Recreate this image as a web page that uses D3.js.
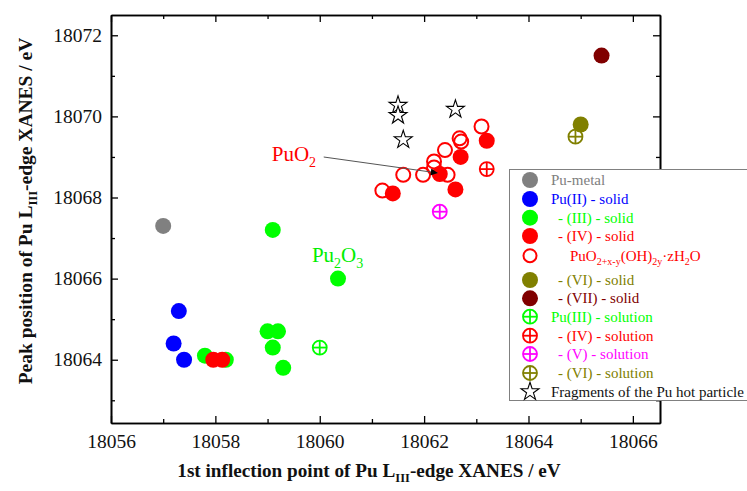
<!DOCTYPE html>
<html><head><meta charset="utf-8">
<script src="https://cdn.jsdelivr.net/npm/d3@7"></script>
<style>
body{margin:0;background:#fff;}
svg{display:block;}
svg text{font-family:"Liberation Serif","Times New Roman",Times,serif !important;}
</style></head>
<body><svg id="c" width="747" height="491"></svg>
<script>
// ---- data ----
const xMajorTicks = [18056, 18058, 18060, 18062, 18064, 18066];
const xMinorTicks = [18057, 18059, 18061, 18063, 18065];
const yMajorTicks = [18064, 18066, 18068, 18070, 18072];
const yMinorTicks = [18063, 18065, 18067, 18069, 18071];

const puMetal = [[18057.0, 18067.3]];
const pu2Solid = [[18057.3, 18065.2], [18057.2, 18064.4], [18057.4, 18064.0]];
const pu3Solid = [[18057.8, 18064.1], [18058.2, 18064.0], [18059.0, 18064.7], [18059.2, 18064.7],
  [18059.1, 18064.3], [18059.3, 18063.8], [18059.1, 18067.2], [18060.35, 18066.0]];
const puO2xHydr = [[18063.1, 18069.75], [18062.68, 18069.46], [18062.71, 18069.38], [18062.4, 18069.17],
  [18062.19, 18068.89], [18062.19, 18068.74], [18061.98, 18068.56], [18061.6, 18068.56],
  [18061.2, 18068.17], [18062.45, 18068.56]];
const pu4Solid = [[18057.96, 18064.0], [18058.13, 18064.0], [18063.2, 18069.4], [18062.7, 18069.0],
  [18062.3, 18068.58], [18062.6, 18068.2], [18061.4, 18068.1]];
const pu6Solid = [[18065.0, 18069.8]];
const pu7Solid = [[18065.4, 18071.5]];
const pu3Sol = [[18060.0, 18064.3]];
const pu4Sol = [[18063.2, 18068.7]];
const pu5Sol = [[18062.3, 18067.65]];
const pu6Sol = [[18064.9, 18069.5]];
const fragments = [[18061.5, 18070.25], [18061.5, 18070.0], [18061.6, 18069.4], [18062.6, 18070.15]];

const puO2Point = [18062.3, 18068.58];
const puO2LabelPos = [18059.08, 18068.9];
const pu2O3LabelPos = [18059.85, 18066.4];

// ---- layout ----
const svg = d3.select("#c");
const L = 111, R = 660, T = 15, B = 423;
const x = d3.scaleLinear().domain([18056, 18066.52]).range([L, R]);
const y = d3.scaleLinear().domain([18062.44, 18072.5]).range([B, T]);

// axes
function ax(gen, tr, ticks, size, labels) {
  const g = svg.append("g").attr("transform", tr)
    .call(gen.tickValues(ticks).tickSizeInner(size).tickSizeOuter(0).tickPadding(12).tickFormat(labels ? d3.format("d") : ""));
  g.attr("font-family", null);
  g.selectAll(".domain").attr("stroke", "#000").attr("stroke-width", 1.6);
  g.selectAll(".tick line").attr("stroke", "#000").attr("stroke-width", 1.3);
  g.selectAll(".tick text").attr("font-size", 19.5).attr("fill", "#111");
  return g;
}
ax(d3.axisBottom(x), `translate(0,${B})`, xMajorTicks, -7, true).selectAll(".tick text").attr("y", 25).attr("dy", 0);
ax(d3.axisBottom(x), `translate(0,${B})`, xMinorTicks, -4, false);
ax(d3.axisTop(x), `translate(0,${T})`, xMajorTicks, -7, false);
ax(d3.axisTop(x), `translate(0,${T})`, xMinorTicks, -4, false);
ax(d3.axisLeft(y), `translate(${L},0)`, yMajorTicks, -7, true).selectAll(".tick text").attr("x", -9);
ax(d3.axisLeft(y), `translate(${L},0)`, yMinorTicks, -4, false);
ax(d3.axisRight(y), `translate(${R},0)`, yMajorTicks, -7, false);
ax(d3.axisRight(y), `translate(${R},0)`, yMinorTicks, -4, false);

// axis titles
const xt = svg.append("text").attr("x", 369).attr("y", 477).attr("text-anchor", "middle")
  .attr("font-weight", "bold").attr("font-size", 19.2).attr("fill", "#111");
xt.append("tspan").text("1st inflection point of Pu L");
xt.append("tspan").attr("font-size", 12.5).attr("dy", 5).text("III");
xt.append("tspan").attr("dy", -5).text("-edge XANES / eV");

const yt = svg.append("text").attr("transform", `translate(32,211) rotate(-90)`)
  .attr("text-anchor", "middle").attr("font-weight", "bold").attr("font-size", 19.5).attr("fill", "#111");
yt.append("tspan").text("Peak position of Pu L");
yt.append("tspan").attr("font-size", 12.5).attr("dy", 5).text("III");
yt.append("tspan").attr("dy", -5).text("-edge XANES / eV");

// marker drawers
const plot = svg.append("g");
function filled(g, cx, cy, col, r) { g.append("circle").attr("cx", cx).attr("cy", cy).attr("r", r).attr("fill", col); }
function open(g, cx, cy, col, r) { g.append("circle").attr("cx", cx).attr("cy", cy).attr("r", r).attr("fill", "none").attr("stroke", col).attr("stroke-width", 2); }
function crossed(g, cx, cy, col, r) {
  g.append("circle").attr("cx", cx).attr("cy", cy).attr("r", r).attr("fill", "none").attr("stroke", col).attr("stroke-width", 1.8);
  g.append("line").attr("x1", cx - r).attr("x2", cx + r).attr("y1", cy).attr("y2", cy).attr("stroke", col).attr("stroke-width", 1.8);
  g.append("line").attr("x1", cx).attr("x2", cx).attr("y1", cy - r).attr("y2", cy + r).attr("stroke", col).attr("stroke-width", 1.8);
}
const starPath = d3.symbol(d3.symbolStar, 100)();
function star(g, cx, cy) {
  g.append("path").attr("d", starPath).attr("transform", `translate(${cx},${cy - 1})`)
    .attr("fill", "#fff").attr("stroke", "#000").attr("stroke-width", 1.1);
}

const series = [
  { data: puMetal, col: "#808080", kind: "filled", label: "Pu-metal", indent: 0 },
  { data: pu2Solid, col: "#0000ff", kind: "filled", label: "Pu(II) - solid", indent: 0 },
  { data: pu3Solid, col: "#00ff00", kind: "filled", label: "- (III) - solid", indent: 1 },
  { data: puO2xHydr, col: "#ff0000", kind: "open", label: null, indent: 2 },
  { data: pu4Solid, col: "#ff0000", kind: "filled", label: "- (IV) - solid", indent: 1 },
  { data: pu6Solid, col: "#808000", kind: "filled", label: "- (VI) - solid", indent: 1 },
  { data: pu7Solid, col: "#800000", kind: "filled", label: "- (VII) - solid", indent: 1 },
  { data: pu3Sol, col: "#00ff00", kind: "crossed", label: "Pu(III) - solution", indent: 0 },
  { data: pu4Sol, col: "#ff0000", kind: "crossed", label: "- (IV) - solution", indent: 1 },
  { data: pu5Sol, col: "#ff00ff", kind: "crossed", label: "- (V) - solution", indent: 1 },
  { data: pu6Sol, col: "#808000", kind: "crossed", label: "- (VI) - solution", indent: 1 },
  { data: fragments, col: "#000", kind: "star", label: "Fragments of the Pu hot particle", indent: 0 }
];
function draw(g, kind, cx, cy, col) {
  if (kind === "filled") filled(g, cx, cy, col, 8);
  else if (kind === "open") open(g, cx, cy, col, 7);
  else if (kind === "crossed") crossed(g, cx, cy, col, 7);
  else star(g, cx, cy);
}
series.forEach(s => s.data.forEach(d => draw(plot, s.kind, x(d[0]), y(d[1]), s.col)));

// annotations
const defs = svg.append("defs");
defs.append("marker").attr("id", "ah").attr("viewBox", "0 0 10 10").attr("refX", 10).attr("refY", 5)
  .attr("markerWidth", 9).attr("markerHeight", 7).attr("orient", "auto").attr("markerUnits", "userSpaceOnUse")
  .append("path").attr("d", "M0,0L10,5L0,10z").attr("fill", "#000");
const lx = x(puO2LabelPos[0]), ly = y(puO2LabelPos[1]);
svg.append("line").attr("x1", lx + 52).attr("y1", ly - 4).attr("x2", x(puO2Point[0]) - 2).attr("y2", y(puO2Point[1]) - 1)
  .attr("stroke", "#555").attr("stroke-width", 1).attr("marker-end", "url(#ah)");
const pt = svg.append("text").attr("x", lx).attr("y", ly).attr("fill", "#ff0000").attr("font-size", 21);
pt.append("tspan").text("PuO");
pt.append("tspan").attr("font-size", 14).attr("dy", 6).text("2");

const gt = svg.append("text").attr("x", x(pu2O3LabelPos[0])).attr("y", y(pu2O3LabelPos[1])).attr("fill", "#00ee00").attr("font-size", 21);
gt.append("tspan").text("Pu");
gt.append("tspan").attr("font-size", 14).attr("dy", 6).text("2");
gt.append("tspan").attr("dy", -6).text("O");
gt.append("tspan").attr("font-size", 14).attr("dy", 6).text("3");

// legend
const lg = svg.append("g");
lg.append("rect").attr("x", 509.5).attr("y", 169.5).attr("width", 260).attr("height", 231)
  .attr("fill", "#fff").attr("stroke", "#808080").attr("stroke-width", 1);
const rowY = [180, 199, 217.7, 236, 255.7, 280, 298.3, 316.7, 335.7, 354, 373, 391.7];
const legendOrder = [0, 1, 2, 4, 3, 5, 6, 7, 8, 9, 10, 11];
legendOrder.forEach((si, k) => {
  const s = series[si];
  const cy = rowY[k];
  if (s.kind === "filled") filled(lg, 530, cy, s.col, 8);
  else if (s.kind === "open") open(lg, 530, cy, s.col, 6.5);
  else if (s.kind === "crossed") crossed(lg, 530, cy, s.col, 7);
  else star(lg, 530, cy + 1);
  const tx = s.indent === 0 ? 551 : s.indent === 1 ? 558 : 570;
  const t = lg.append("text").attr("x", tx).attr("y", cy + 5).attr("font-size", 15)
    .attr("fill", s.kind === "star" ? "#111" : s.col);
  if (s.label) t.text(s.label);
  else {
    t.append("tspan").text("PuO");
    t.append("tspan").attr("font-size", 10).attr("dy", 4).text("2+x-y");
    t.append("tspan").attr("dy", -4).text("(OH)");
    t.append("tspan").attr("font-size", 10).attr("dy", 4).text("2y");
    t.append("tspan").attr("dy", -4).text("\u00b7zH");
    t.append("tspan").attr("font-size", 10).attr("dy", 4).text("2");
    t.append("tspan").attr("dy", -4).text("O");
  }
});
</script></body></html>
